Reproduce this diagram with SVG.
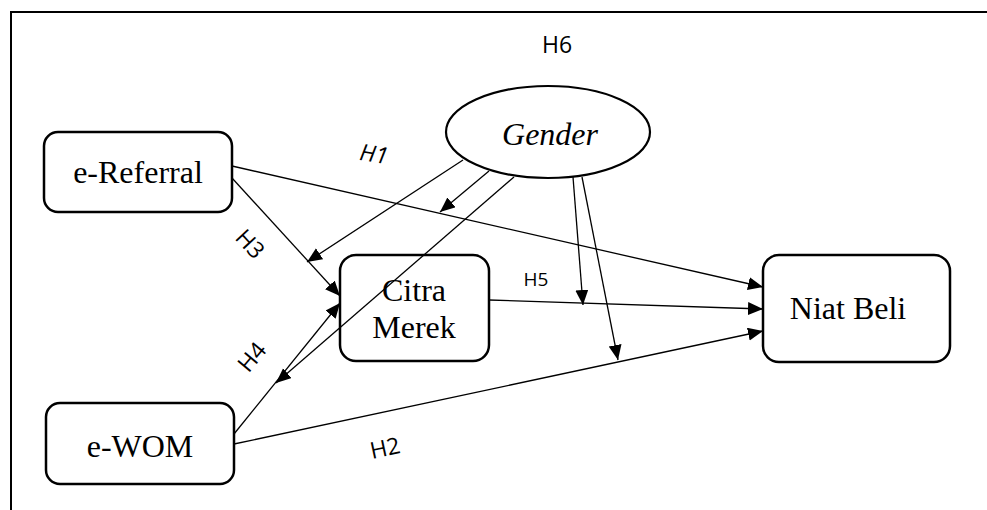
<svg xmlns="http://www.w3.org/2000/svg" width="987" height="510" viewBox="0 0 987 510">
<defs>
<marker id="ah" markerUnits="userSpaceOnUse" markerWidth="16" markerHeight="14" refX="15" refY="6.5" orient="auto">
<path d="M0,0 L15,6.5 L0,13 z" fill="#000"/>
</marker>
</defs>
<rect width="987" height="510" fill="#fff"/>
<path d="M11,510 V12 H987" fill="none" stroke="#000" stroke-width="2"/>
<g id="e-referral">
<rect x="44" y="132" width="188" height="80" rx="14" fill="#fff" stroke="#000" stroke-width="2.5"/>
<text x="138" y="183" font-family="'Liberation Serif', 'Times New Roman', serif" font-size="32" text-anchor="middle">e-Referral</text>
</g>
<g id="e-wom">
<rect x="46" y="403" width="188" height="81" rx="14" fill="#fff" stroke="#000" stroke-width="2.5"/>
<text x="140" y="457" font-family="'Liberation Serif', 'Times New Roman', serif" font-size="32" text-anchor="middle">e-WOM</text>
</g>
<g id="citra-merek">
<rect x="340" y="255" width="149" height="106" rx="16" fill="#fff" stroke="#000" stroke-width="2.5"/>
<text x="414" y="301" font-family="'Liberation Serif', 'Times New Roman', serif" font-size="32" text-anchor="middle">Citra</text>
<text x="414" y="338" font-family="'Liberation Serif', 'Times New Roman', serif" font-size="32" text-anchor="middle">Merek</text>
</g>
<g id="niat-beli">
<rect x="763" y="255" width="187" height="107" rx="16" fill="#fff" stroke="#000" stroke-width="2.5"/>
<text x="848" y="319" font-family="'Liberation Serif', 'Times New Roman', serif" font-size="32" text-anchor="middle">Niat Beli</text>
</g>
<g id="gender">
<ellipse cx="548" cy="132" rx="102" ry="46" fill="#fff" stroke="#000" stroke-width="2.2"/>
<text x="550" y="145" font-family="'Liberation Serif', 'Times New Roman', serif" font-size="32" font-style="italic" text-anchor="middle">Gender</text>
</g>
<g id="connectors" stroke="#000" stroke-width="1.3" fill="none">
<line marker-end="url(#ah)" x1="232" y1="166" x2="763" y2="287"/>
<line marker-end="url(#ah)" x1="232" y1="178" x2="340" y2="296"/>
<line marker-end="url(#ah)" x1="234" y1="434" x2="340" y2="303"/>
<line marker-end="url(#ah)" x1="234" y1="444" x2="763" y2="331"/>
<line marker-end="url(#ah)" x1="489" y1="300" x2="763" y2="309"/>
<line marker-end="url(#ah)" x1="463" y1="160" x2="307" y2="262"/>
<line marker-end="url(#ah)" x1="489" y1="171" x2="440" y2="212"/>
<line marker-end="url(#ah)" x1="514" y1="177" x2="276" y2="383"/>
<line marker-end="url(#ah)" x1="573" y1="177" x2="583" y2="305"/>
<line marker-end="url(#ah)" x1="582" y1="177" x2="618" y2="360"/>
</g>
<g id="labels" font-family="'Open Sans', 'Liberation Sans', sans-serif" text-anchor="middle" fill="#000">
<text x="557" y="53" font-size="23">H6</text>
<text x="374" y="162" font-size="23" font-style="italic" transform="rotate(9 374 154)">H1</text>
<text x="250" y="252" font-size="23" transform="rotate(47 250 244)">H3</text>
<text x="252" y="365" font-size="23" transform="rotate(-50 252 357)">H4</text>
<text x="385" y="456" font-size="23" transform="rotate(-12 385 448)">H2</text>
<text x="536" y="286" font-size="19">H5</text>
</g>
</svg>
